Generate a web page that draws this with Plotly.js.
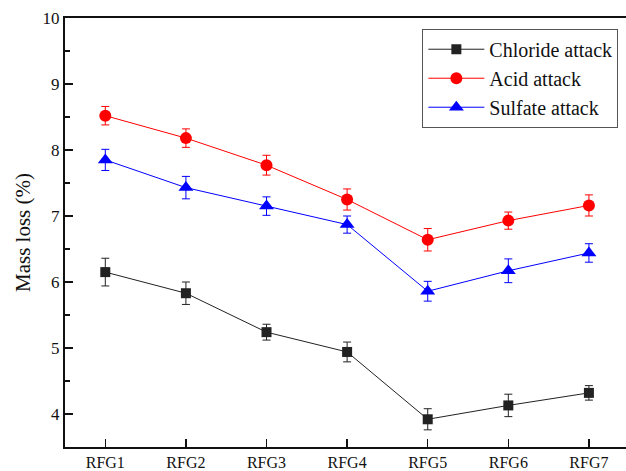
<!DOCTYPE html>
<html>
<head>
<meta charset="utf-8">
<script src="https://cdn.plot.ly/plotly-3.0.1.min.js"></script>
<style>html,body{margin:0;padding:0;background:#fff;}#chart{width:626px;height:471px;}</style>
</head>
<body>
<div id="chart"></div>
<script>
const categories = ["RFG1", "RFG2", "RFG3", "RFG4", "RFG5", "RFG6", "RFG7"];
const chloride = [6.15, 5.83, 5.24, 4.94, 3.92, 4.13, 4.32];
const chlorideErr = [0.21, 0.17, 0.12, 0.15, 0.16, 0.17, 0.11];
const acid = [8.52, 8.18, 7.77, 7.25, 6.64, 6.93, 7.16];
const acidErr = [0.14, 0.14, 0.15, 0.16, 0.17, 0.13, 0.16];
const sulfate = [7.85, 7.43, 7.15, 6.87, 5.86, 6.17, 6.44];
const sulfateErr = [0.16, 0.17, 0.14, 0.13, 0.15, 0.18, 0.14];
const seriesNames = ["Chloride attack", "Acid attack", "Sulfate attack"];

const idx = categories.map((c, i) => i);
function mk(name, y, err, color, symbol, size) {
  return {
    x: idx, y: y, name: name, type: 'scatter', mode: 'lines+markers',
    line: {color: color, width: 1},
    marker: {color: color, symbol: symbol, size: size},
    error_y: {type: 'data', array: err, visible: true, color: color, thickness: 1, width: 4}
  };
}
const data = [
  mk(seriesNames[0], chloride, chlorideErr, '#222222', 'square', 10),
  mk(seriesNames[1], acid, acidErr, '#ff0000', 'circle', 12),
  mk(seriesNames[2], sulfate, sulfateErr, '#0000ff', 'triangle-up', 13)
];
const font = {family: 'Liberation Serif, Times New Roman, serif', color: '#111', size: 16};
const layout = {
  width: 626, height: 471,
  margin: {l: 65, r: 0, t: 18, b: 24},
  paper_bgcolor: '#ffffff', plot_bgcolor: '#ffffff',
  font: font,
  showlegend: true,
  legend: {
    x: 0.637, y: 0.975, xanchor: 'left', yanchor: 'top',
    bordercolor: '#555', borderwidth: 1, bgcolor: '#fff',
    font: {family: font.family, size: 20, color: '#111'},
    itemwidth: 56,
    tracegroupgap: 0
  },
  xaxis: {
    range: [-0.5, 6.46],
    tickvals: idx, ticktext: categories,
    ticks: 'inside', ticklen: 8, tickwidth: 1.5, tickcolor: '#111',
    showline: true, linecolor: '#111', linewidth: 2, mirror: true,
    showgrid: false, zeroline: false,
    tickfont: {family: font.family, size: 16, color: '#111'}
  },
  yaxis: {
    range: [3.5, 10],
    tickvals: [4, 5, 6, 7, 8, 9, 10],
    ticks: 'inside', ticklen: 8, tickwidth: 1.5, tickcolor: '#111',
    minor: {tickvals: [3.5, 4.5, 5.5, 6.5, 7.5, 8.5, 9.5], ticks: 'inside', ticklen: 5, tickwidth: 1.5, tickcolor: '#111'},
    showline: true, linecolor: '#111', linewidth: 2,
    showgrid: false, zeroline: false,
    tickfont: {family: font.family, size: 17, color: '#111'},
    title: {text: 'Mass loss (%)', font: {family: font.family, size: 21, color: '#111'}, standoff: 6}
  }
};
Plotly.newPlot('chart', data, layout, {displayModeBar: false, staticPlot: true});
</script>
</body>
</html>
